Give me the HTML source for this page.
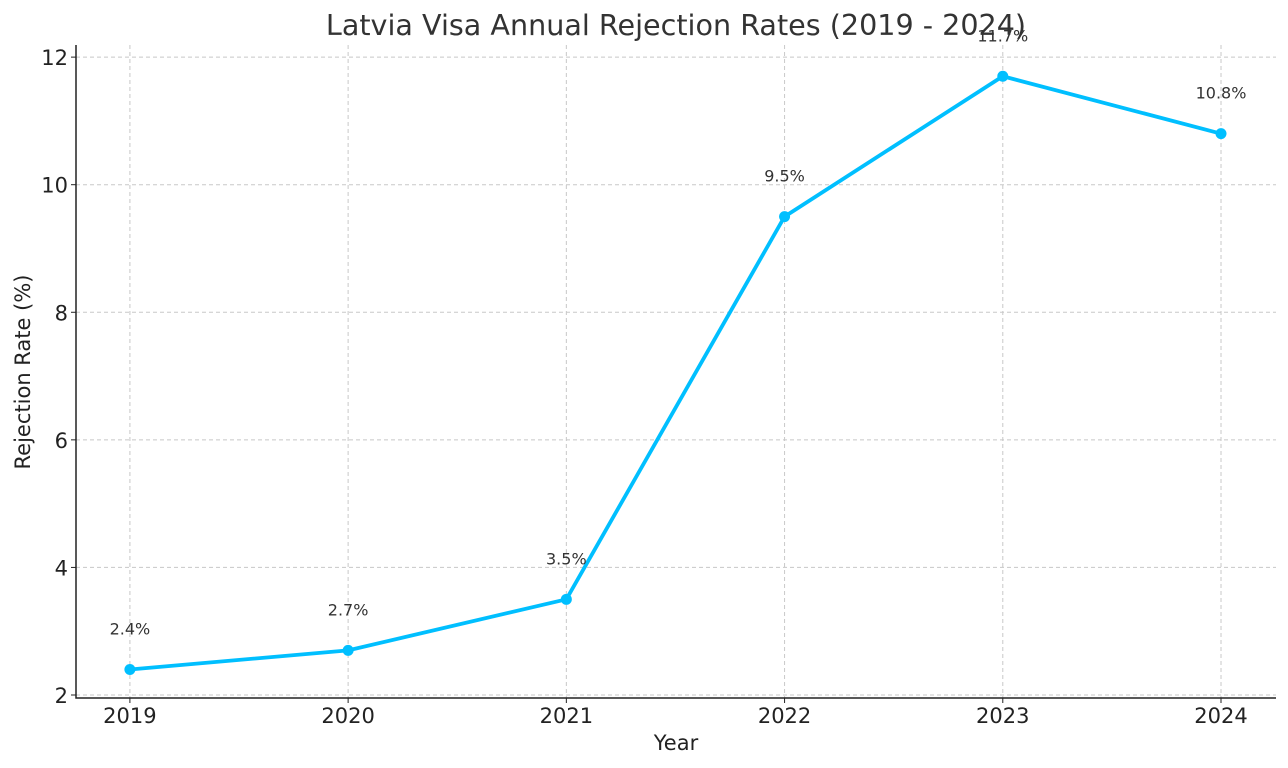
<!DOCTYPE html>
<html><head><meta charset="utf-8"><style>
html,body{margin:0;padding:0;background:#fff;}
svg{display:block;font-family:"DejaVu Sans","Liberation Sans",sans-serif;}
</style></head><body>
<svg id="chart" width="1288" height="768"></svg>
<script>
const years=[2019,2020,2021,2022,2023,2024];
const rates=[2.4,2.7,3.5,9.5,11.7,10.8];
const yTicks=[2,4,6,8,10,12];
const pointLabels=["2.4%","2.7%","3.5%","9.5%","11.7%","10.8%"];

const L=76,R=1276,T=45,B=698;
const xMin=2018.753,xMax=2024.252,yMin=1.953,yMax=12.19;
const sx=v=>L+(v-xMin)/(xMax-xMin)*(R-L);
const sy=v=>B-(v-yMin)/(yMax-yMin)*(B-T);
const svg=document.getElementById('chart');
const NS='http://www.w3.org/2000/svg';
function mk(tag,attrs,parent){const e=document.createElementNS(NS,tag);for(const k in attrs)e.setAttribute(k,attrs[k]);(parent||svg).appendChild(e);return e;}

years.forEach(y=>{
  const g=mk('line',{x1:sx(y),x2:sx(y),y1:T,y2:B,stroke:'#c8c8c8','stroke-width':1,'stroke-dasharray':'4,3'});
  
  
  const tk=mk('line',{x1:sx(y),x2:sx(y),y1:B,y2:B+5,stroke:'#222','stroke-width':1});
  
  
  const t=mk('text',{x:sx(y),y:B+25,'text-anchor':'middle','font-size':21,fill:'#222'});
  t.textContent=y;
  
  
});
yTicks.forEach(v=>{
  const g=mk('line',{x1:L,x2:R,y1:sy(v),y2:sy(v),stroke:'#c8c8c8','stroke-width':1,'stroke-dasharray':'4,3'});
  
  
  const tk=mk('line',{x1:L-5,x2:L,y1:sy(v),y2:sy(v),stroke:'#222','stroke-width':1});
  
  
  const t=mk('text',{x:L-8,y:sy(v)+8,'text-anchor':'end','font-size':21,fill:'#222'});
  t.textContent=v;
  
  
});
const ax=mk('path',{d:`M${L},${T} V${B} H${R}`,fill:'none',stroke:'#222','stroke-width':1.5});



const pts=years.map((y,i)=>sx(y)+','+sy(rates[i])).join(' ');
const pl=mk('polyline',{points:pts,fill:'none',stroke:'#00BFFF','stroke-width':3.8,'stroke-linejoin':'round'});


years.forEach((y,i)=>{
  const c=mk('circle',{cx:sx(y),cy:sy(rates[i]),r:5.5,fill:'#00BFFF'});
  
  
  const t=mk('text',{x:sx(y),y:sy(rates[i])-35,'text-anchor':'middle','font-size':16,fill:'#333'});
  t.textContent=pointLabels[i];
  
  
});

const title=mk('text',{x:676,y:35,'text-anchor':'middle','font-size':28.6,fill:'#333'});
title.textContent='Latvia Visa Annual Rejection Rates (2019 - 2024)';


const xl=mk('text',{x:676,y:750,'text-anchor':'middle','font-size':21,fill:'#222'});
xl.textContent='Year';


const yl=mk('text',{x:0,y:0,'text-anchor':'middle','font-size':21,fill:'#222',transform:'translate(30,372) rotate(-90)'});
yl.textContent='Rejection Rate (%)';


</script>
</body></html>
